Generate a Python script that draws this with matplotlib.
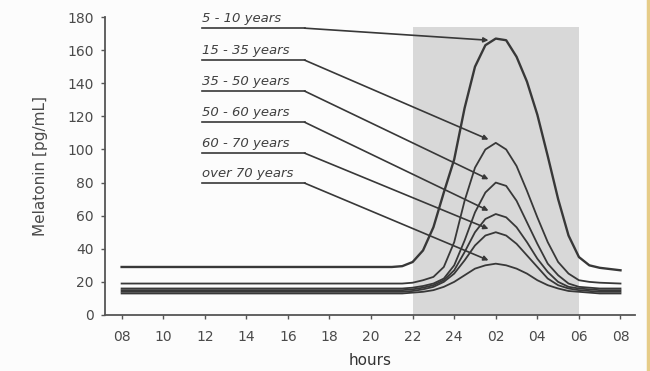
import numpy as np
import matplotlib.pyplot as plt

plt.rcParams['font.family'] = ['DejaVu Sans']

# hours after 08:00 of day 1 (24 = midnight, 32 = 08:00 next day)
hours = [8, 10, 12, 14, 16, 18, 20, 21, 21.5, 22, 22.5, 23, 23.5, 24, 24.5,
         25, 25.5, 26, 26.5, 27, 27.5, 28, 28.5, 29, 29.5, 30, 30.5, 31, 32]

age_5_10 = [29, 29, 29, 29, 29, 29, 29, 29, 29.5, 32, 39, 53, 74, 94, 125,
            150, 163, 167, 166, 156, 141, 121, 96, 70, 48, 35, 30, 28.5, 27]
age_15_35 = [19, 19, 19, 19, 19, 19, 19, 19, 19, 19.5, 21, 23, 29, 44, 69,
             89, 100, 104, 100, 90, 75, 59, 44, 32, 25, 21, 20, 19.5, 19]
age_35_50 = [16, 16, 16, 16, 16, 16, 16, 16, 16, 16.5, 17.5, 19, 22, 30, 45,
             62, 74, 80, 78, 69, 56, 43, 31, 24, 19, 17, 16.5, 16, 16]
age_50_60 = [15, 15, 15, 15, 15, 15, 15, 15, 15, 15.5, 16.5, 18, 21, 27, 38,
             50, 58, 61, 59, 53, 44, 34, 26, 20, 17, 16, 15.5, 15, 15]
age_60_70 = [14, 14, 14, 14, 14, 14, 14, 14, 14, 14.5, 15.5, 17, 20, 25, 33,
             42, 48, 50, 48, 43, 36, 29, 22, 18, 16, 15, 14.5, 14, 14]
age_70 = [13, 13, 13, 13, 13, 13, 13, 13, 13, 13.5, 14, 15, 17, 20, 24,
          28, 30, 31, 30, 28, 25, 21, 18, 16, 14.5, 14, 13.5, 13, 13]

series = [age_5_10, age_15_35, age_35_50, age_50_60, age_60_70, age_70]
labels = ['5 - 10 years', '15 - 35 years', '35 - 50 years',
          '50 - 60 years', '60 - 70 years', 'over 70 years']

tick_hours = [8, 10, 12, 14, 16, 18, 20, 22, 24, 26, 28, 30, 32]
tick_labels = ['08', '10', '12', '14', '16', '18', '20', '22', '24',
               '02', '04', '06', '08']

night_start, night_end = 22, 30

# underline heights of the age labels (data units)
label_y = [173.3, 154, 135.3, 116.5, 97.8, 79.7]

fig = plt.figure(figsize=(6.5, 3.71), dpi=100)
fig.patch.set_facecolor('#fcfcfc')
ax = fig.add_axes([0.1615, 0.151, 0.8155, 0.803])
ax.set_facecolor('#fcfcfc')

ink = '#383838'

# night shading
ax.fill_between([night_start, night_end], 0, 174, color='#d8d8d8', lw=0, zorder=0)

for i, vals in enumerate(series):
    lw = 1.7 if i == 0 else 1.3
    ax.plot(hours, vals, color=ink, lw=lw, zorder=3)

# labels with underline and arrow to the peak
for i, (lab, vals) in enumerate(zip(labels, series)):
    uy = label_y[i]
    ax.text(11.85, uy + 1.8, lab, fontsize=9.5, style='italic', color='#404040',
            ha='left', va='bottom', zorder=4)
    ax.plot([11.85, 16.8], [uy, uy], color=ink, lw=1.2, zorder=4, clip_on=False)
    k = int(np.argmax(vals))
    off = -1 if i == 0 else 2
    tip = (hours[k] - 0.35, vals[k] + off)
    ax.annotate('', xy=tip, xytext=(16.8, uy),
                arrowprops=dict(arrowstyle='-|>', color=ink, lw=1.2,
                                mutation_scale=7, shrinkA=0, shrinkB=0),
                zorder=4, annotation_clip=False)

ax.set_xlim(7.2, 32.7)
ax.set_ylim(0, 180)
ax.set_xticks(tick_hours)
ax.set_xticklabels(tick_labels)
ax.set_yticks(range(0, 181, 20))

for s in ['top', 'right']:
    ax.spines[s].set_visible(False)
for s in ['left', 'bottom']:
    ax.spines[s].set_color('#555555')
    ax.spines[s].set_linewidth(1.3)

ax.tick_params(axis='both', colors='#555555', labelcolor='#4a4a4a',
               labelsize=10, length=3, width=1)
ax.tick_params(axis='x', pad=8)
ax.tick_params(axis='y', pad=5)

ax.set_xlabel('hours', fontsize=11, color='#333333', labelpad=6)
ax.set_ylabel('Melatonin [pg/mL]', fontsize=11, color='#4a4a4a', labelpad=14)

# thin tan border on the right edge
fig.add_artist(plt.Line2D([0.9975, 0.9975], [0, 1], color='#e6cc88', lw=2.5,
                          transform=fig.transFigure))

fig.savefig('out.png', dpi=100, facecolor=fig.get_facecolor())
